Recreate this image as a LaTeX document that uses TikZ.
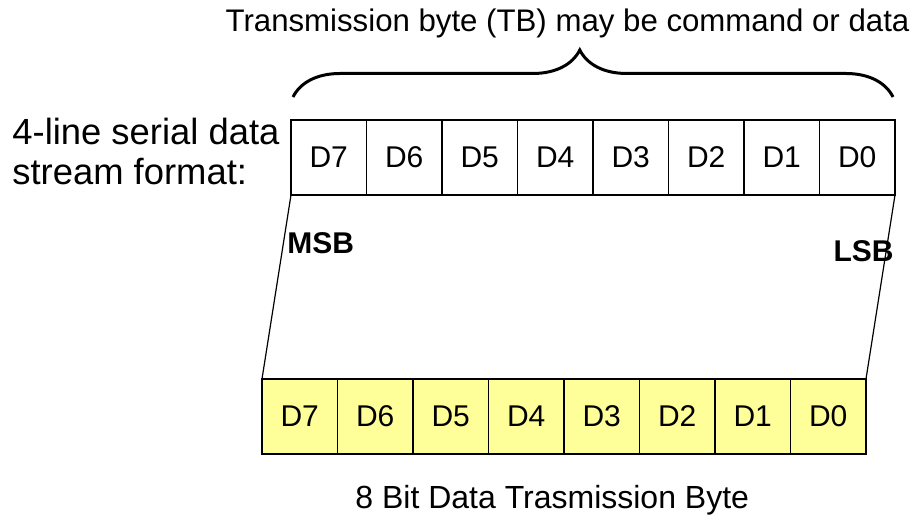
\documentclass[tikz,border=0pt]{standalone}
\usepackage{fontspec}
\setmainfont{Liberation Sans}
\usepackage{tikz}
\usetikzlibrary{positioning,calc,decorations.pathreplacing}
\definecolor{bytefill}{HTML}{FFFF99}

\begin{document}
\begin{tikzpicture}[x=0.5pt,y=-0.5pt,
  cell/.style={rectangle,draw=black,line width=0.75pt,minimum width=37.75pt,minimum height=37.5pt,inner sep=0pt,outer sep=0pt,font=\fontsize{15}{18}\selectfont},
  lowcell/.style={cell,fill=bytefill},
  lab/.style={inner sep=0pt,font=\fontsize{15.6}{18}\selectfont},
  bitlab/.style={inner sep=0pt,font=\fontsize{15}{18}\selectfont\bfseries}]
  \useasboundingbox (0,0) rectangle (918,517);
  % serial stream byte
  \foreach \i [evaluate=\i as \b using int(7-\i)] in {0,...,7}{
    \node[cell] (t\b) at ({291+37.75+75.5*\i},157.5) {D\b};
  }
  % data transmission byte
  \foreach \i [evaluate=\i as \b using int(7-\i)] in {0,...,7}{
    \node[lowcell] (b\b) at ({262+37.75+75.5*\i},416.5) {D\b};
  }
  % side lines
  \draw[line width=0.6pt] (t7.south west) -- (b7.north west);
  \draw[line width=0.6pt] (t0.south east) -- (b0.north east);
  % brace over the byte
  \coordinate (brl) at (293,97);
  \coordinate (brr) at (893,97);
  \draw[line width=1.5pt,decorate,decoration={brace,amplitude=23.5pt,aspect=0.478}] (brl) -- (brr);
  % labels
  \node[lab,anchor=base] (tb) at (567.5,32) {Transmission byte (TB) may be command or data};
  \node[inner sep=0pt,anchor=base west,font=\fontsize{18.2}{20}\selectfont] (fmt) at (12,145) {4-line serial data};
  \node[inner sep=0pt,anchor=base west,font=\fontsize{18.2}{20}\selectfont] (fmt2) at (12,185) {stream format:};
  \node[bitlab,anchor=west] (msb) at (287,243) {MSB};
  \node[bitlab,anchor=east] (lsb) at (894,251) {LSB};
  \node[inner sep=0pt,anchor=base west,font=\fontsize{16}{18}\selectfont] (cap) at (355,509) {8 Bit Data Trasmission Byte};
\end{tikzpicture}
\end{document}
